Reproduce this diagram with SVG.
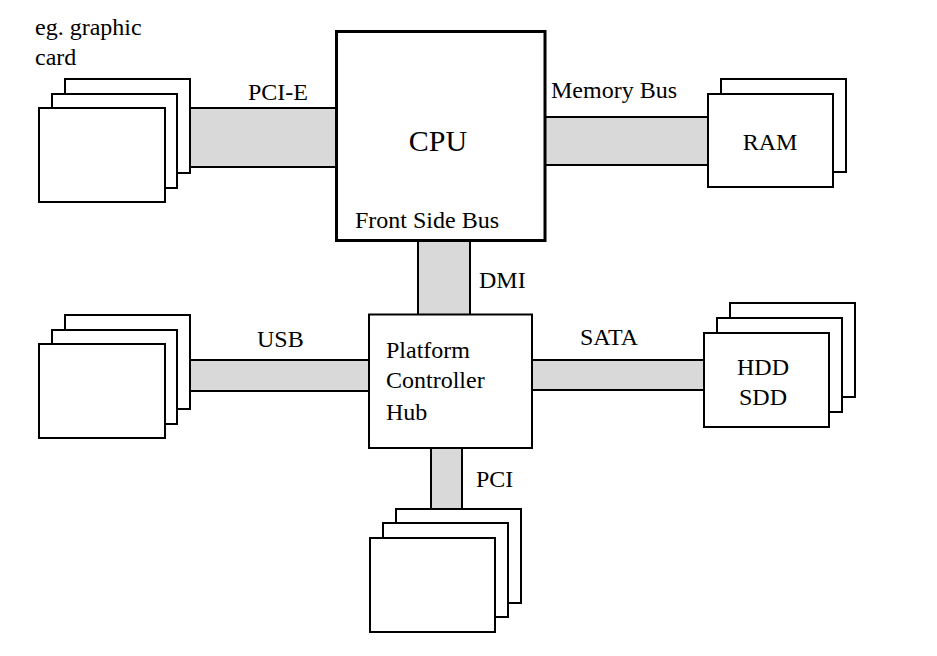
<svg xmlns="http://www.w3.org/2000/svg" width="937" height="656" viewBox="0 0 937 656">
<style>
.card{fill:#fff;stroke:#000;stroke-width:2}
.bus{fill:#d9d9d9;stroke:none}
.bl{stroke:#000;stroke-width:2;fill:none}
.t{font-family:"Liberation Serif","Times New Roman",serif;font-size:24px;fill:#000}
.big{font-size:30px}
</style>
<rect width="937" height="656" fill="#fff"/>
<g id="connectors">
<g id="pcie-bus"><rect class="bus" x="189" y="108" width="148" height="59"/><line class="bl" x1="189" y1="108" x2="337" y2="108"/><line class="bl" x1="189" y1="167" x2="337" y2="167"/></g>
<g id="memory-bus"><rect class="bus" x="545" y="117" width="164" height="48"/><line class="bl" x1="545" y1="117" x2="709" y2="117"/><line class="bl" x1="545" y1="165" x2="709" y2="165"/></g>
<g id="dmi-bus"><rect class="bus" x="418" y="241" width="52" height="74"/><line class="bl" x1="418" y1="241" x2="418" y2="315"/><line class="bl" x1="470" y1="241" x2="470" y2="315"/></g>
<g id="usb-bus"><rect class="bus" x="189" y="360" width="181" height="31"/><line class="bl" x1="189" y1="360" x2="370" y2="360"/><line class="bl" x1="189" y1="391" x2="370" y2="391"/></g>
<g id="sata-bus"><rect class="bus" x="531" y="360" width="174" height="30"/><line class="bl" x1="531" y1="360" x2="705" y2="360"/><line class="bl" x1="531" y1="390" x2="705" y2="390"/></g>
<g id="pci-bus"><rect class="bus" x="431" y="447" width="31" height="62"/><line class="bl" x1="431" y1="447" x2="431" y2="509"/><line class="bl" x1="462" y1="447" x2="462" y2="509"/></g>
</g>
<text class="t" x="248" y="100">PCI-E</text>
<text class="t" x="551" y="98">Memory Bus</text>
<text class="t" x="479" y="288">DMI</text>
<text class="t" x="257" y="347">USB</text>
<text class="t" x="580" y="345">SATA</text>
<text class="t" x="476" y="487">PCI</text>
<g id="graphic-card">
<rect class="card" x="65" y="79" width="125" height="94"/>
<rect class="card" x="52" y="94" width="125" height="94"/>
<rect class="card" x="39" y="108" width="126" height="94"/>
<text class="t" x="35" y="35">eg. graphic</text>
<text class="t" x="35" y="65">card</text>
</g>
<g id="cpu">
<rect x="336.5" y="31.5" width="208.5" height="209" fill="#fff" stroke="#000" stroke-width="3"/>
<text class="t big" x="438" y="151" text-anchor="middle">CPU</text>
<text class="t" x="355" y="228">Front Side Bus</text>
</g>
<g id="ram">
<rect class="card" x="721" y="79" width="125" height="93"/>
<rect class="card" x="708" y="94" width="125" height="93"/>
<text class="t" x="770" y="150" text-anchor="middle">RAM</text>
</g>
<g id="usb-devices">
<rect class="card" x="65" y="315" width="125" height="94"/>
<rect class="card" x="52" y="330" width="125" height="94"/>
<rect class="card" x="39" y="344" width="126" height="94"/>
</g>
<g id="pch">
<rect x="369" y="314.5" width="163" height="133.5" fill="#fff" stroke="#000" stroke-width="2"/>
<text class="t" x="386" y="358">Platform</text>
<text class="t" x="386" y="388">Controller</text>
<text class="t" x="386" y="420">Hub</text>
</g>
<g id="storage">
<rect class="card" x="730" y="303" width="125" height="94"/>
<rect class="card" x="717" y="318" width="125" height="94"/>
<rect class="card" x="704" y="333" width="125" height="94"/>
<text class="t" x="763" y="375" text-anchor="middle">HDD</text>
<text class="t" x="763" y="405" text-anchor="middle">SDD</text>
</g>
<g id="pci-devices">
<rect class="card" x="396" y="509" width="125" height="94"/>
<rect class="card" x="383" y="523" width="125" height="94"/>
<rect class="card" x="370" y="538" width="125" height="94"/>
</g>
</svg>
